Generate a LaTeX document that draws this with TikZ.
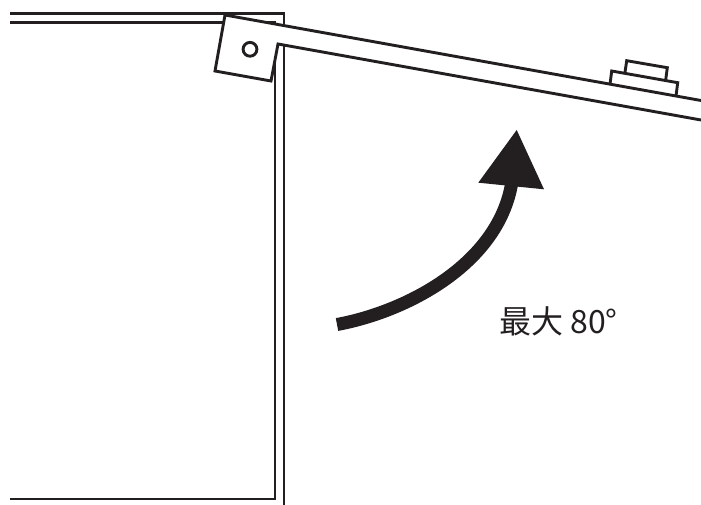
\documentclass[tikz,border=0pt]{standalone}
\usepackage{fontspec}
\newfontfamily\cjk{Noto Sans CJK JP}
\definecolor{ink}{HTML}{231F20}
\tikzset{
  outline/.style={draw=ink,line width=2.9pt,line join=miter},
  arrowshaft/.style={draw=ink,line width=13pt},
  arrowtip/.style={fill=ink,draw=none},
  caption/.style={text=ink,font=\cjk\fontsize{32}{32}\selectfont,inner sep=0pt,anchor=base west}
}
\begin{document}
\begin{tikzpicture}[x=1pt,y=-1pt]
\useasboundingbox (0,0) rectangle (701,505);
% cabinet
\draw[outline] (10,13.3) -- (284,13.3) -- (284,505);
\draw[outline] (10,22.3) -- (275,22.3) -- (275,499) -- (10,499);
% lid and hinge
\fill[white] (225,15) -- (701,100.5) -- (701,120) -- (278,44) -- (271,81) -- (215,71) -- cycle;
\draw[outline] (701,100.5) -- (225,15) -- (215,71) -- (271,81) -- (278,44) -- (701,120);
\draw[outline] (250,49.3) circle (6.9);
% latch
\draw[outline] (610,84.3) -- (611.7,71) -- (677.7,82.7) -- (676,96);
\draw[outline] (625,72.3) -- (626.7,60.7) -- (667.3,67.7) -- (665.7,80);
% motion arrow
\draw[arrowshaft] (337,324.5) .. controls (405,312) and (495,266) .. (511,187) -- (513,178);
\fill[arrowtip] (516.7,130) -- (544,189.3) -- (478.3,182.7) -- cycle;
\node[caption] (angle) at (499,333) {最大 80°};
\end{tikzpicture}
\end{document}
